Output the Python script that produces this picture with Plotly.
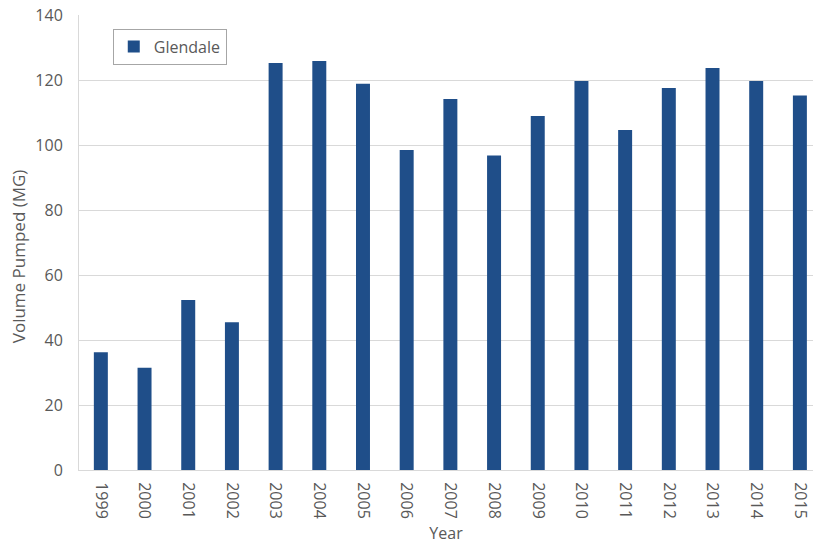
import plotly.graph_objects as go

years = ["1999", "2000", "2001", "2002", "2003", "2004", "2005", "2006", "2007",
         "2008", "2009", "2010", "2011", "2012", "2013", "2014", "2015"]
glendale = [36.3, 31.5, 52.4, 45.5, 125.4, 126.0, 119.0, 98.6, 114.3,
            96.9, 109.1, 119.9, 104.8, 117.7, 123.9, 119.9, 115.4]

font_family = "Open Sans, Liberation Sans, sans-serif"
text_grey = "#595959"
grid_grey = "#d9d9d9"

fig = go.Figure()
fig.add_trace(go.Bar(
    x=years, y=glendale, name="Glendale",
    marker=dict(color="#1f4e89", line=dict(width=0)),
    showlegend=True,
))

fig.update_layout(
    width=813, height=552,
    margin=dict(l=79, r=0, t=15, b=82),
    paper_bgcolor="white", plot_bgcolor="white",
    font=dict(family=font_family, size=16, color=text_grey),
    bargap=0.68,
    showlegend=True,
    legend=dict(
        x=0.046, y=0.97, xanchor="left", yanchor="top",
        bordercolor="#a6a6a6", borderwidth=1, bgcolor="white",
        font=dict(size=16, color=text_grey),
        itemwidth=30,
    ),
    xaxis=dict(
        type="category", range=[-0.5, 16.3],
        tickangle=90, showgrid=False,
        showline=True, linecolor=grid_grey, linewidth=1,
        ticks="", ticklabelstandoff=8, tickfont=dict(size=16, color=text_grey),
        title=dict(text="Year", font=dict(size=16, color=text_grey), standoff=10),
    ),
    yaxis=dict(
        range=[0, 140.2], tickvals=[0, 20, 40, 60, 80, 100, 120, 140],
        showgrid=True, gridcolor=grid_grey, gridwidth=1,
        showline=True, linecolor=grid_grey, linewidth=1, mirror=False,
        zeroline=False, ticks="", ticklabelstandoff=12,
        tickfont=dict(size=16, color=text_grey),
    ),
    annotations=[dict(
        text="Volume Pumped (MG)", textangle=-90,
        xref="paper", yref="paper", x=-0.083, y=0.47,
        xanchor="center", yanchor="middle", showarrow=False,
        font=dict(size=17, color=text_grey),
    )],
)

fig.write_html("out.html")
